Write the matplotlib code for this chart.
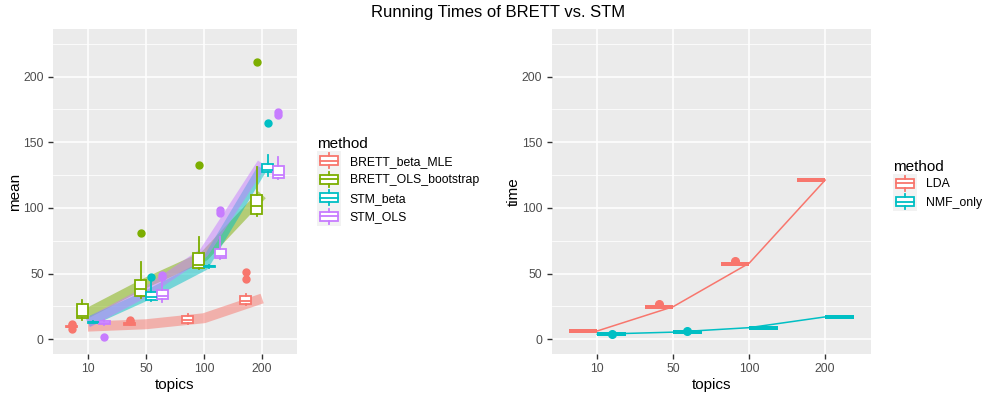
import numpy as np
import matplotlib
matplotlib.use("Agg")
import matplotlib.pyplot as plt
from matplotlib.patches import Patch, Rectangle
from matplotlib.lines import Line2D
from matplotlib.legend_handler import HandlerBase

plt.rcParams["font.family"] = ["Liberation Sans", "DejaVu Sans"]

topics = ["10", "50", "100", "200"]

# left panel: BRETT vs STM, box stats per method (one value per topic)
methods_l = ["BRETT_beta_MLE", "BRETT_OLS_bootstrap", "STM_beta", "STM_OLS"]
colors_l = ["#F8766D", "#7CAE00", "#00BFC4", "#C77CFF"]
whislo_l = [[8.5, 10.5, 11.5, 26], [14.5, 31.5, 53.5, 93.5], [12, 29, 54.5, 124], [11, 28, 61, 122]]
q1_l = [[9, 11, 12.5, 27], [16, 33, 54.5, 95], [12.5, 30, 55, 127], [11.5, 30.5, 62, 123]]
med_l = [[9.5, 11.5, 14.5, 29], [18, 38, 56.5, 101.5], [13, 32, 55.5, 129], [12.5, 33, 63.5, 125]]
q3_l = [[10, 12.5, 17.5, 33], [26.5, 45, 66, 110], [13.5, 36, 56, 133.5], [14, 37.5, 69, 132]]
whishi_l = [[10.5, 13, 19.5, 34.5], [29.5, 59, 78, 131], [14, 44, 56.5, 140], [14.5, 45, 77.5, 138.5]]
fliers_l = [
    [[8, 11, 11.5], [14, 15], [], [46, 51.5]],
    [[], [81], [133], [211]],
    [[], [47.5], [], [165]],
    [[2], [47.5, 49], [96.5, 98.5], [171, 173]],
]
means_l = [[9.6, 11.4, 16, 31], [20, 43, 63, 110], [13, 33, 56, 130], [12.5, 36, 66, 134]]

# right panel: LDA vs NMF_only
methods_r = ["LDA", "NMF_only"]
colors_r = ["#F8766D", "#00BFC4"]
box_r = [[6.3, 24.8, 57.5, 121.2], [3.8, 5.5, 8.8, 17.0]]
fliers_r = [[[], [26.6], [59.2], []], [[4.2], [6.0], [], []]]
means_r = [[6.3, 24.8, 57.9, 121.2], [3.8, 5.4, 8.8, 17.0]]


class BoxKey(HandlerBase):
    def create_artists(self, legend, orig, xd, yd, w, h, fs, trans):
        c = orig.get_edgecolor()
        x0, y0 = -xd, -yd
        arts = [
            Rectangle((x0, y0), w, h, fc="#F2F2F2", ec="none", transform=trans),
            Rectangle((x0 + 0.125 * w, y0 + 0.25 * h), 0.75 * w, 0.5 * h, fc="white", ec=c, lw=1.3, transform=trans),
            Line2D([x0 + 0.125 * w, x0 + 0.875 * w], [y0 + 0.5 * h] * 2, color=c, lw=1.3, transform=trans),
            Line2D([x0 + 0.5 * w] * 2, [y0 + 0.1 * h, y0 + 0.25 * h], color=c, lw=1.3, transform=trans),
            Line2D([x0 + 0.5 * w] * 2, [y0 + 0.75 * h, y0 + 0.9 * h], color=c, lw=1.3, transform=trans),
        ]
        return arts


def style_axes(ax, ylabel):
    ax.set_facecolor("#EBEBEB")
    for s in ax.spines.values():
        s.set_visible(False)
    ax.set_xlim(0.4, 4.6)
    ax.set_ylim(-11.25, 236.25)
    ax.set_xticks(np.arange(1, 5))
    ax.set_xticklabels(topics)
    ax.set_yticks([0, 50, 100, 150, 200])
    ax.set_yticks([25, 75, 125, 175, 225], minor=True)
    ax.grid(True, which="major", color="white", lw=1.1)
    ax.grid(True, which="minor", axis="y", color="white", lw=0.55)
    ax.tick_params(which="major", length=3.7, width=1.0, color="#333333", labelcolor="#4D4D4D", labelsize=8.8, pad=3)
    ax.tick_params(which="minor", length=0)
    ax.set_axisbelow(True)
    ax.set_xlabel("topics", fontsize=11, labelpad=2)
    ax.set_ylabel(ylabel, fontsize=11, labelpad=1)


def draw_boxes(ax, stats, pos, width, color, lw=1.3, ms=5):
    ax.bxp(stats, positions=pos, widths=width, patch_artist=True, showcaps=False,
           boxprops=dict(facecolor="white", edgecolor=color, lw=lw),
           medianprops=dict(color=color, lw=lw),
           whiskerprops=dict(color=color, lw=lw),
           flierprops=dict(marker="o", markerfacecolor=color, markeredgecolor=color, markersize=ms),
           zorder=3)


fig = plt.figure(figsize=(9.97, 3.99), dpi=100)
ax1 = fig.add_axes([53 / 997, 45 / 399, 244 / 997, 325 / 399])
ax2 = fig.add_axes([551.7 / 997, 45 / 399, 319 / 997, 325 / 399])

x = np.arange(1, 5)

# left panel
style_axes(ax1, "mean")
offs_l = [-0.28125, -0.09375, 0.09375, 0.28125]
for i, m in enumerate(methods_l):
    ax1.plot(x, means_l[i], color=colors_l[i], lw=7.2, alpha=0.5, solid_capstyle="butt", zorder=2)
for i, m in enumerate(methods_l):
    stats = [dict(whislo=whislo_l[i][j], q1=q1_l[i][j], med=med_l[i][j], q3=q3_l[i][j],
                  whishi=whishi_l[i][j], fliers=fliers_l[i][j]) for j in range(4)]
    draw_boxes(ax1, stats, x + offs_l[i], 0.1875, colors_l[i])
ax1.set_xticks(x)
ax1.set_xticklabels(topics)

# right panel
style_axes(ax2, "time")
offs_r = [-0.1875, 0.1875]
for i, m in enumerate(methods_r):
    stats = [dict(whislo=box_r[i][j], q1=box_r[i][j], med=box_r[i][j], q3=box_r[i][j],
                  whishi=box_r[i][j], fliers=fliers_r[i][j]) for j in range(4)]
    draw_boxes(ax2, stats, x + offs_r[i], 0.375, colors_r[i], lw=2.8, ms=5.5)
for i, m in enumerate(methods_r):
    ax2.plot(x, means_r[i], color=colors_r[i], lw=1.1, zorder=4)
ax2.set_xticks(x)
ax2.set_xticklabels(topics)

# legends
leg_kw = dict(loc="center left", frameon=False, fontsize=8.8, title="method", title_fontsize=11,
              handlelength=1.96, handleheight=1.96, labelspacing=0, handletextpad=0.7,
              borderpad=0, borderaxespad=0, alignment="left", handler_map={Patch: BoxKey()})
h1 = [Patch(edgecolor=c, facecolor="white") for c in colors_l]
fig.legend(h1, methods_l, bbox_to_anchor=(317 / 997, 0.545), **leg_kw)
h2 = [Patch(edgecolor=c, facecolor="white") for c in colors_r]
fig.legend(h2, methods_r, bbox_to_anchor=(893 / 997, 0.535), **leg_kw)

fig.suptitle("Running Times of BRETT vs. STM", x=0.5, y=1 - 12 / 399, va="center", fontsize=12)

fig.savefig("out.png", dpi=100)
